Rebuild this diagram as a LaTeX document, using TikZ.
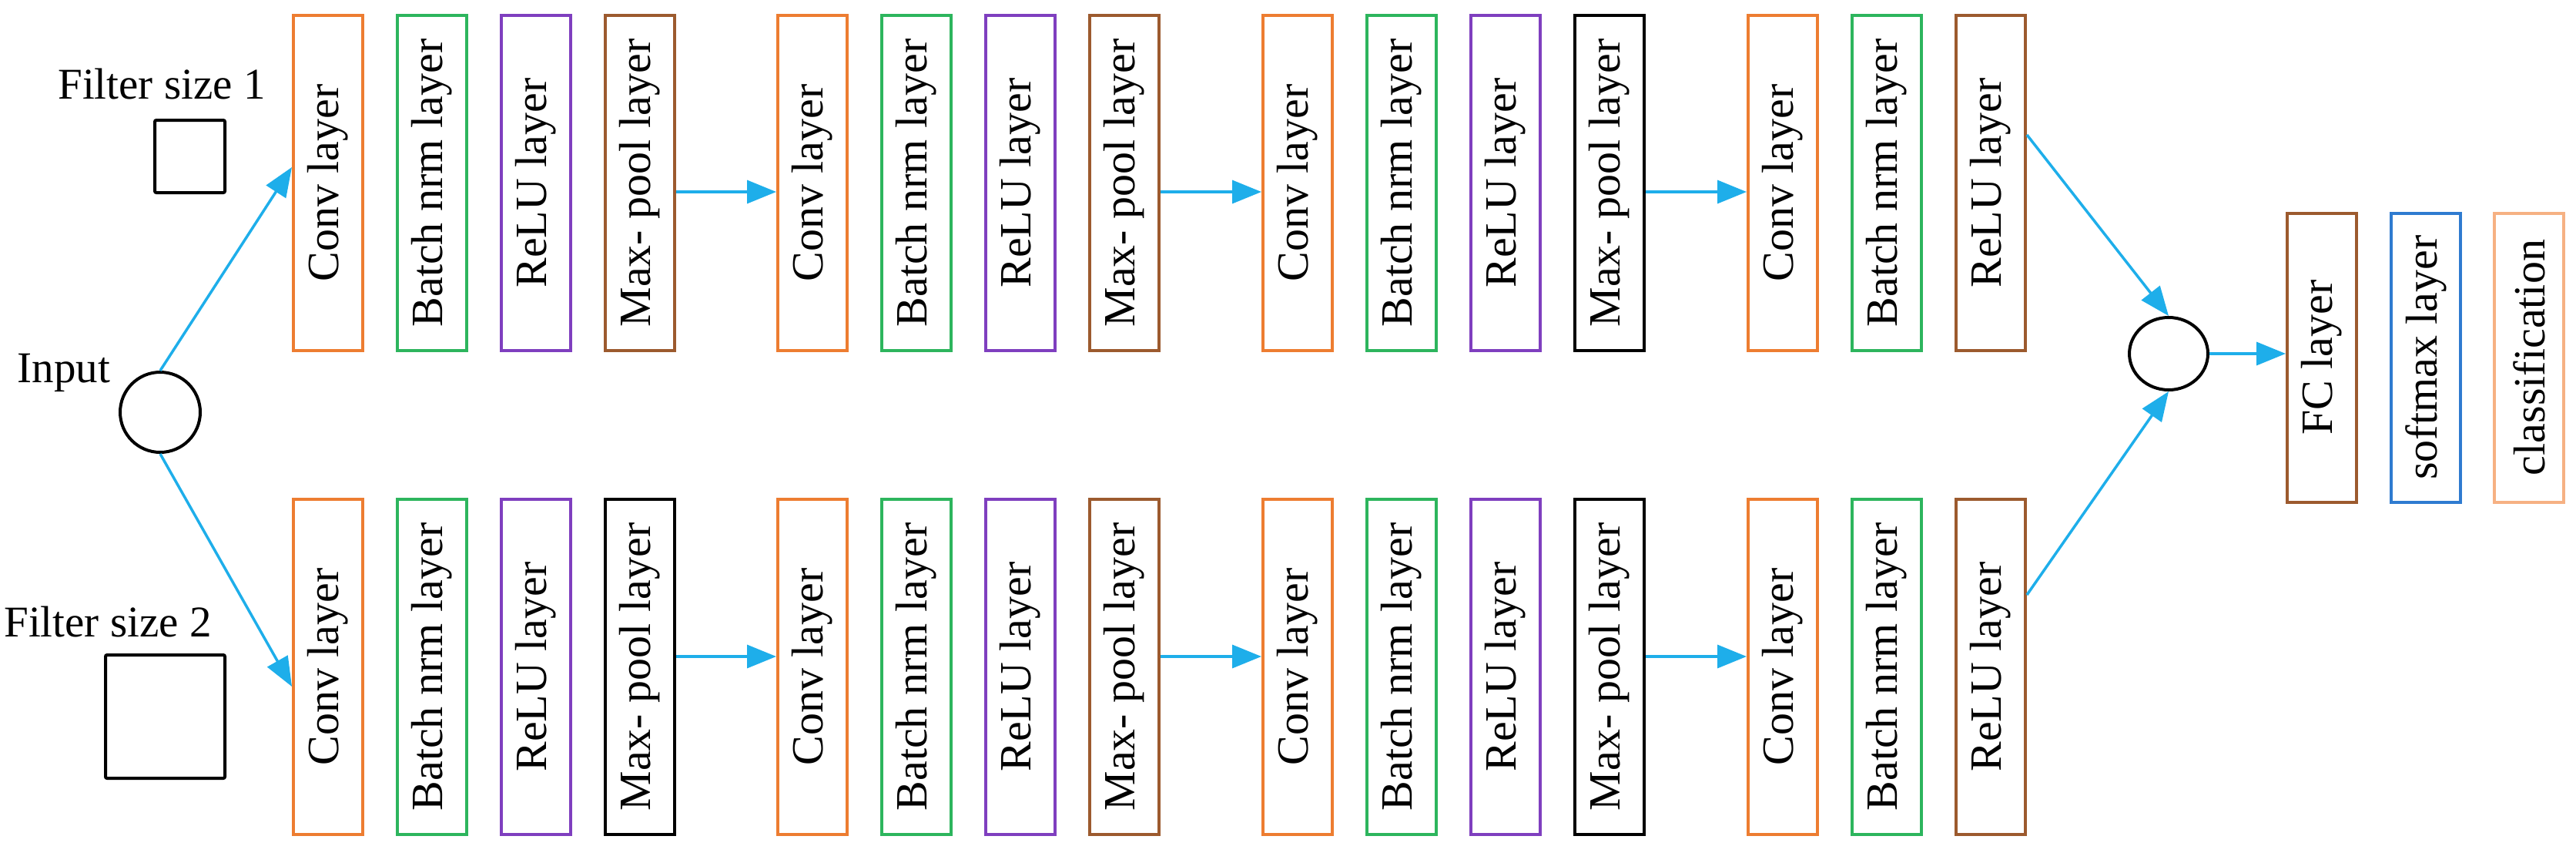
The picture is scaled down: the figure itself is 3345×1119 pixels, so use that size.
\documentclass[tikz,border=0pt]{standalone}
\usepackage{fontspec}
\setmainfont{Liberation Serif}
\usetikzlibrary{arrows.meta,shapes.geometric}
\definecolor{corange}{HTML}{ED7D31}
\definecolor{cgreen}{HTML}{2DB55D}
\definecolor{cpurple}{HTML}{7F3FBF}
\definecolor{cbrown}{HTML}{9C5A2E}
\definecolor{cblue}{HTML}{2F7BD0}
\definecolor{cpeach}{HTML}{F6B183}
\definecolor{carrow}{HTML}{1EAEEA}
\tikzset{
  lay/.style={draw=#1, line width=4pt, minimum width=435pt, minimum height=90pt, rotate=90, inner sep=0pt, font=\fontsize{58}{62}\selectfont},
  flay/.style={draw=#1, line width=4pt, minimum width=375pt, minimum height=90pt, rotate=90, inner sep=0pt, font=\fontsize{58}{62}\selectfont},
  arr/.style={draw=carrow, line width=3.5pt, -{Triangle[length=38pt,width=30pt]}},
  lbl/.style={font=\fontsize{57}{62}\selectfont, inner sep=0pt},
  ring/.style={circle, draw=black, line width=4pt, minimum size=104pt, inner sep=0pt}
}
\begin{document}
\begin{tikzpicture}[x=1pt,y=-1pt]
\useasboundingbox (0,0) rectangle (3345,1119);
\def\rowA{237.5}
\def\rowB{865.5}
\foreach \g/\gx in {1/381,2/1010,3/1640,4/2270}{
  \node[lay=corange] (t\g c) at (\gx+45,\rowA) {Conv layer};
  \node[lay=cgreen] (t\g b) at (\gx+180,\rowA) {Batch nrm layer};
  \node[lay=corange] (b\g c) at (\gx+45,\rowB) {Conv layer};
  \node[lay=cgreen] (b\g b) at (\gx+180,\rowB) {Batch nrm layer};
}
\foreach \g/\gx in {1/381,2/1010,3/1640}{
  \node[lay=cpurple] (t\g r) at (\gx+315,\rowA) {ReLU layer};
  \node[lay=cpurple] (b\g r) at (\gx+315,\rowB) {ReLU layer};
}
\node[lay=cbrown] (t4r) at (2270+315,\rowA) {ReLU layer};
\node[lay=cbrown] (b4r) at (2270+315,\rowB) {ReLU layer};
\node[lay=cbrown] (t1m) at (381+450,\rowA) {Max- pool layer};
\node[lay=cbrown] (t2m) at (1010+450,\rowA) {Max- pool layer};
\node[lay=black] (t3m) at (1640+450,\rowA) {Max- pool layer};
\node[lay=black] (b1m) at (381+450,\rowB) {Max- pool layer};
\node[lay=cbrown] (b2m) at (1010+450,\rowB) {Max- pool layer};
\node[lay=black] (b3m) at (1640+450,\rowB) {Max- pool layer};

\node[flay=cbrown] (fc) at (3015,464) {FC layer};
\node[flay=cblue] (sm) at (3150,464) {softmax layer};
\node[flay=cpeach] (cl) at (3284,464) {classification};

\node[ring] (in) at (208,535) {};
\node[ellipse, draw=black, line width=4pt, minimum width=102pt, minimum height=94pt, inner sep=0pt] (out) at (2816,459) {};
\node[lbl] (inl) at (83,484) {Input};
\node[lbl] (f1) at (210,109) {Filter size 1};
\node[lbl] (f2) at (140,807) {Filter size 2};
\node[draw, line width=4pt, rounded corners=2pt, minimum width=91pt, minimum height=94pt, inner sep=0pt] (s1) at (246.5,203) {};
\node[draw, line width=4pt, rounded corners=2pt, minimum width=155pt, minimum height=160pt, inner sep=0pt] (s2) at (214.5,930) {};

\draw[arr] (in.north) -- (t1c.north |- 0,217);
\draw[arr] (in.south) -- (b1c.north |- 0,891);
\foreach \r/\y in {t/249,b/852}{
  \draw[arr] (\r1m.south |- 0,\y) -- (\r2c.north |- 0,\y);
  \draw[arr] (\r2m.south |- 0,\y) -- (\r3c.north |- 0,\y);
  \draw[arr] (\r3m.south |- 0,\y) -- (\r4c.north |- 0,\y);
}
\draw[arr] (t4r.south |- 0,175) -- (out.north);
\draw[arr] (b4r.south |- 0,772) -- (out.south);
\draw[arr] (out.east) -- (fc.north |- out.east);
\end{tikzpicture}
\end{document}
